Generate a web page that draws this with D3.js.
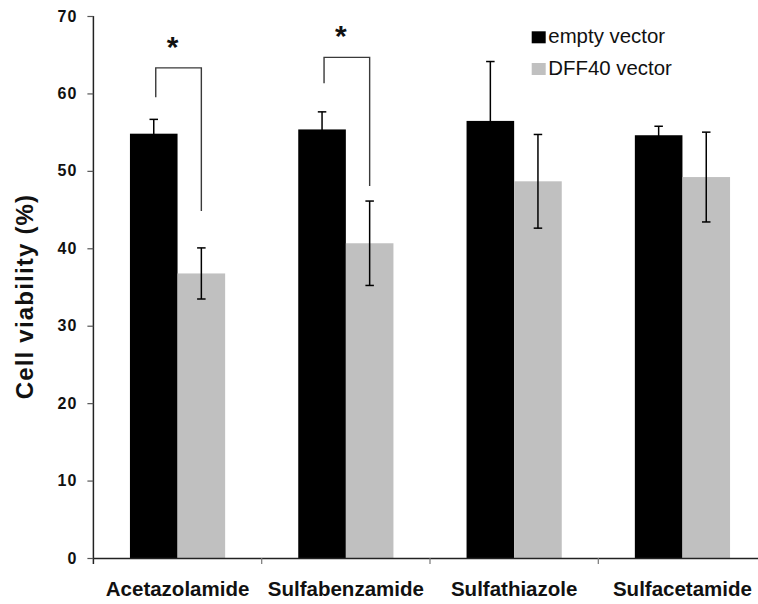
<!DOCTYPE html>
<html>
<head>
<meta charset="utf-8">
<script src="https://cdn.jsdelivr.net/npm/d3@7"></script>
<style>
  html, body { margin: 0; padding: 0; background: #fff; }
  svg { display: block; font-family: "Liberation Sans", Arial, sans-serif; }
</style>
</head>
<body>
<svg id="chart" width="758" height="604"></svg>
<script>
// ---- data ----
const categories = ["Acetazolamide", "Sulfabenzamide", "Sulfathiazole", "Sulfacetamide"];
const seriesNames = ["empty vector", "DFF40 vector"];
const emptyValues = [54.8, 55.35, 56.45, 54.6];
const emptyErrors = [1.85, 2.27, 7.67, 1.16];
const dffValues = [36.75, 40.65, 48.65, 49.2];
const dffErrors = [3.3, 5.45, 6.05, 5.8];
const yTicks = [0, 10, 20, 30, 40, 50, 60, 70];
// significance brackets: category, left-end value, top value, right-end value
const sigCategories = ["Acetazolamide", "Sulfabenzamide"];
const sigLeft = [59.5, 61.3];
const sigTop = [63.3, 64.65];
const sigRight = [44.8, 48.05];
const sigLabel = "*";

const seriesColors = ["#000000", "#c0c0c0"];

// ---- build rows ----
const rows = categories.map((c, i) => ({
  cat: c,
  vals: [
    { s: seriesNames[0], v: emptyValues[i], e: emptyErrors[i] },
    { s: seriesNames[1], v: dffValues[i], e: dffErrors[i] }
  ]
}));

const svg = d3.select("#chart");
const axisX = 93.4, axisY0 = 558, axisY70 = 16;

const x0 = d3.scaleBand().domain(categories).range([axisX, 766.6]).padding(0);
const bw = x0.bandwidth();
const barW = 47.6;
const x1 = d3.scaleBand().domain(seriesNames).range([bw / 2 - barW, bw / 2 + barW]).padding(0);
const y = d3.scaleLinear().domain([0, 70]).range([axisY0, axisY70]);
const color = d3.scaleOrdinal().domain(seriesNames).range(seriesColors);

// bars
const groups = svg.append("g").selectAll("g").data(rows).join("g")
  .attr("transform", d => `translate(${x0(d.cat)},0)`);

groups.selectAll("rect").data(d => d.vals).join("rect")
  .attr("x", d => x1(d.s))
  .attr("width", x1.bandwidth())
  .attr("y", d => y(d.v))
  .attr("height", d => y(0) - y(d.v))
  .attr("fill", d => color(d.s));

// error bars
const capW = 8.5;
const errG = groups.selectAll("g.err").data(d => d.vals).join("g").attr("class", "err")
  .attr("stroke", "#000").attr("stroke-width", 1.5);
errG.append("line")
  .attr("x1", d => x1(d.s) + x1.bandwidth() / 2)
  .attr("x2", d => x1(d.s) + x1.bandwidth() / 2)
  .attr("y1", d => y(d.v + d.e))
  .attr("y2", d => y(d.v - d.e));
errG.append("line")
  .attr("x1", d => x1(d.s) + x1.bandwidth() / 2 - capW / 2)
  .attr("x2", d => x1(d.s) + x1.bandwidth() / 2 + capW / 2)
  .attr("y1", d => y(d.v + d.e))
  .attr("y2", d => y(d.v + d.e));
errG.append("line")
  .attr("x1", d => x1(d.s) + x1.bandwidth() / 2 - capW / 2)
  .attr("x2", d => x1(d.s) + x1.bandwidth() / 2 + capW / 2)
  .attr("y1", d => y(d.v - d.e))
  .attr("y2", d => y(d.v - d.e));

// significance brackets
const sig = sigCategories.map((c, i) => ({ cat: c, l: sigLeft[i], t: sigTop[i], r: sigRight[i] }));
const sigG = svg.append("g");
sigG.selectAll("path").data(sig).join("path")
  .attr("fill", "none").attr("stroke", "#3a3a3a").attr("stroke-width", 1.4)
  .attr("d", d => {
    const xl = x0(d.cat) + x1(seriesNames[0]) + x1.bandwidth() / 2 + 2;
    const xr = x0(d.cat) + x1(seriesNames[1]) + x1.bandwidth() / 2;
    return `M${xl},${y(d.l)}V${y(d.t)}H${xr}V${y(d.r)}`;
  });
sigG.selectAll("text").data(sig).join("text")
  .attr("x", d => x0(d.cat) + bw / 2 - 5)
  .attr("y", d => y(d.t) - 11)
  .attr("text-anchor", "middle")
  .attr("font-size", 30).attr("font-weight", "bold").attr("fill", "#111")
  .text(sigLabel);

// y axis
const yAxis = svg.append("g")
  .attr("transform", `translate(${axisX},0)`)
  .call(d3.axisLeft(y).tickValues(yTicks).tickSize(6).tickSizeOuter(0).tickPadding(10));
yAxis.select(".domain").attr("stroke", "#222").attr("stroke-width", 1.5)
  .attr("d", `M0,${y(70)}V${y(0) + 6}`);
yAxis.selectAll(".tick line").attr("stroke", "#555").attr("stroke-width", 1.2);
yAxis.selectAll(".tick text")
  .attr("font-family", "'Liberation Sans', Arial, sans-serif")
  .attr("font-size", 16).attr("font-weight", "bold").attr("letter-spacing", "1px")
  .attr("fill", "#111");

// x axis
const xAxis = svg.append("g")
  .attr("transform", `translate(0,${axisY0})`)
  .call(d3.axisBottom(x0).tickSize(0).tickPadding(23.5));
xAxis.select(".domain").attr("stroke", "#222").attr("stroke-width", 1.5);
xAxis.selectAll(".tick text")
  .attr("font-family", "'Liberation Sans', Arial, sans-serif")
  .attr("font-size", 20.5).attr("font-weight", "bold").attr("fill", "#111");
xAxis.selectAll("line.bound").data(categories.slice(1)).join("line").attr("class", "bound")
  .attr("x1", d => x0(d)).attr("x2", d => x0(d))
  .attr("y1", 0).attr("y2", 6)
  .attr("stroke", "#777").attr("stroke-width", 1.2);

// y axis title
svg.append("text")
  .attr("transform", `translate(33,296.5) rotate(-90)`)
  .attr("text-anchor", "middle")
  .attr("font-size", 24).attr("font-weight", "bold").attr("fill", "#111")
  .attr("letter-spacing", "1.2px")
  .text("Cell viability (%)");

// legend
const legend = svg.append("g").attr("transform", "translate(531.7,0)");
const leg = legend.selectAll("g").data(seriesNames).join("g")
  .attr("transform", (d, i) => `translate(0,${43.3 + i * 31.7})`);
leg.append("rect")
  .attr("x", 0).attr("y", -12).attr("width", 14).attr("height", 12)
  .attr("fill", d => color(d));
leg.append("text")
  .attr("x", 16.6).attr("y", 0)
  .attr("font-size", 20.4).attr("fill", "#111")
  .text(d => d);
</script>
</body>
</html>
